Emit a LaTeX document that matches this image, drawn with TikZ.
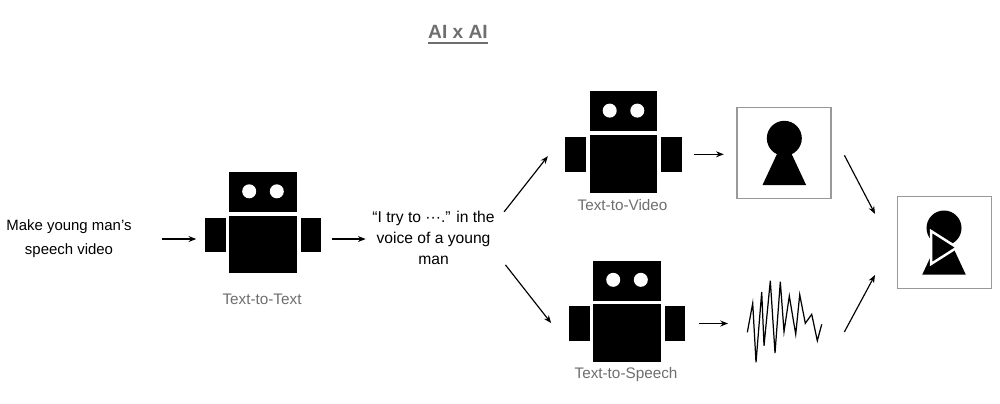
\documentclass[tikz,border=0pt]{standalone}
\usepackage{fontspec}
\usetikzlibrary{arrows.meta}
\setmainfont{Liberation Sans}
\definecolor{labelgray}{HTML}{6E6E6E}
\definecolor{framegray}{HTML}{999999}
\tikzset{
    flow/.style={-{Stealth[length=2.2pt,width=1.7pt]},line width=0.33pt},
    part/.style={fill=black,inner sep=0pt,minimum width=#1},
    frame/.style={draw=framegray,line width=0.3pt,inner sep=0pt,minimum width=0.94cm,minimum height=0.915cm},
    caption/.style={text=labelgray,inner sep=0pt,font=\fontsize{4.35}{5}\selectfont},
    words/.style={inner sep=0pt,align=center}
}
% name, x, y of the gap between head and body
\newcommand{\robot}[3]{
    \begin{scope}[shift={(#2,#3)}]
        \fill (-0.337,0.03) rectangle (0.337,0.43);
        \fill[white] (-0.138,0.237) circle (0.07);
        \fill[white] (0.138,0.237) circle (0.07);
        \node[part=0.674cm,minimum height=0.577cm,anchor=north] (#1-body) at (0,0) {};
        \node[part=0.207cm,minimum height=0.346cm] (#1-arml) at (-0.477,-0.2) {};
        \node[part=0.203cm,minimum height=0.346cm] (#1-armr) at (0.479,-0.2) {};
    \end{scope}
}
% x, y of the centre of the head
\newcommand{\keyhole}[2]{
    \fill (#1,#2) circle (0.175);
    \fill (#1,#2) -- ++(-0.218,-0.467) -- ++(0.436,0) -- cycle;
}
\begin{document}
\begin{tikzpicture}
    \useasboundingbox (0,0) rectangle (10,4.03);
    \node[inner sep=0pt,text=labelgray,font=\fontsize{5.45}{6}\selectfont\bfseries] (title) at (4.58,3.68) {\underline{AI x AI}};

    \node[words,font=\fontsize{4.25}{6.83}\selectfont] (prompt) at (0.69,1.64) {Make young man’s\\speech video};
    \robot{robota}{2.63}{1.88}
    \node[caption] (captiona) at (2.62,1.04) {Text-to-Text};
    \node[words,font=\fontsize{4.45}{5.97}\selectfont] (speech) at (4.335,1.65) {“I try to ···.” in the\\voice of a young\\man};

    \robot{robotb}{6.235}{2.687}
    \node[caption] (captionb) at (6.225,1.98) {Text-to-Video};
    \robot{robotc}{6.27}{0.995}
    \node[caption] (captionc) at (6.26,0.285) {Text-to-Speech};

    \node[frame] (imgbox) at (7.84,2.5) {};
    \keyhole{7.843}{2.647}

    \node[frame] (mixbox) at (9.443,1.605) {};
    \keyhole{9.44}{1.75}
    \draw[white,line width=0.7pt,fill=black] (9.31,1.72) -- (9.57,1.555) -- (9.31,1.39) -- cycle;

    \draw[line width=0.35pt] (7.473,0.707) -- (7.527,0.997) -- (7.56,0.407) -- (7.617,1.11) -- (7.64,0.573)
        -- (7.703,1.223) -- (7.75,0.5) -- (7.803,1.213) -- (7.84,0.713) -- (7.893,1.07) -- (7.957,0.687)
        -- (7.997,1.083) -- (8.053,0.797) -- (8.117,0.887) -- (8.173,0.623) -- (8.217,0.787);
    \coordinate (wave-w) at (7.47,0.8);
    \coordinate (wave-e) at (8.443,0.71);

    \draw[flow,shorten <=0.3cm,shorten >=0.08cm] (prompt.east) -- (prompt.east -| robota-arml.west);
    \draw[flow,shorten <=0.1cm,shorten >=0.06cm] ([yshift=-0.01cm]speech.west -| robota-armr.east) -- ([yshift=-0.01cm]speech.west);
    \draw[flow,shorten <=0.142cm,shorten >=0.273cm] ([yshift=0.15cm]speech.east) -- ([yshift=0.196cm]robotb-arml.west);
    \draw[flow,shorten <=0.164cm,shorten >=0.277cm] ([yshift=-0.14cm]speech.east) -- ([yshift=-0.214cm]robotc-arml.west);
    \draw[flow,shorten <=0.12cm,shorten >=0.127cm] (robotb-armr.east) -- (robotb-armr.east -| imgbox.west);
    \draw[flow,shorten <=0.13cm,shorten >=0.19cm] (robotc-armr.east) -- (robotc-armr.east -| wave-w);
    \draw[flow,shorten <=0.278cm,shorten >=0.47cm] ([yshift=0.223cm]imgbox.east) -- ([yshift=-0.131cm]mixbox.west);
    \draw[flow,shorten >=0.46cm] (wave-e) -- ([yshift=0.08cm]mixbox.west);
\end{tikzpicture}
\end{document}
